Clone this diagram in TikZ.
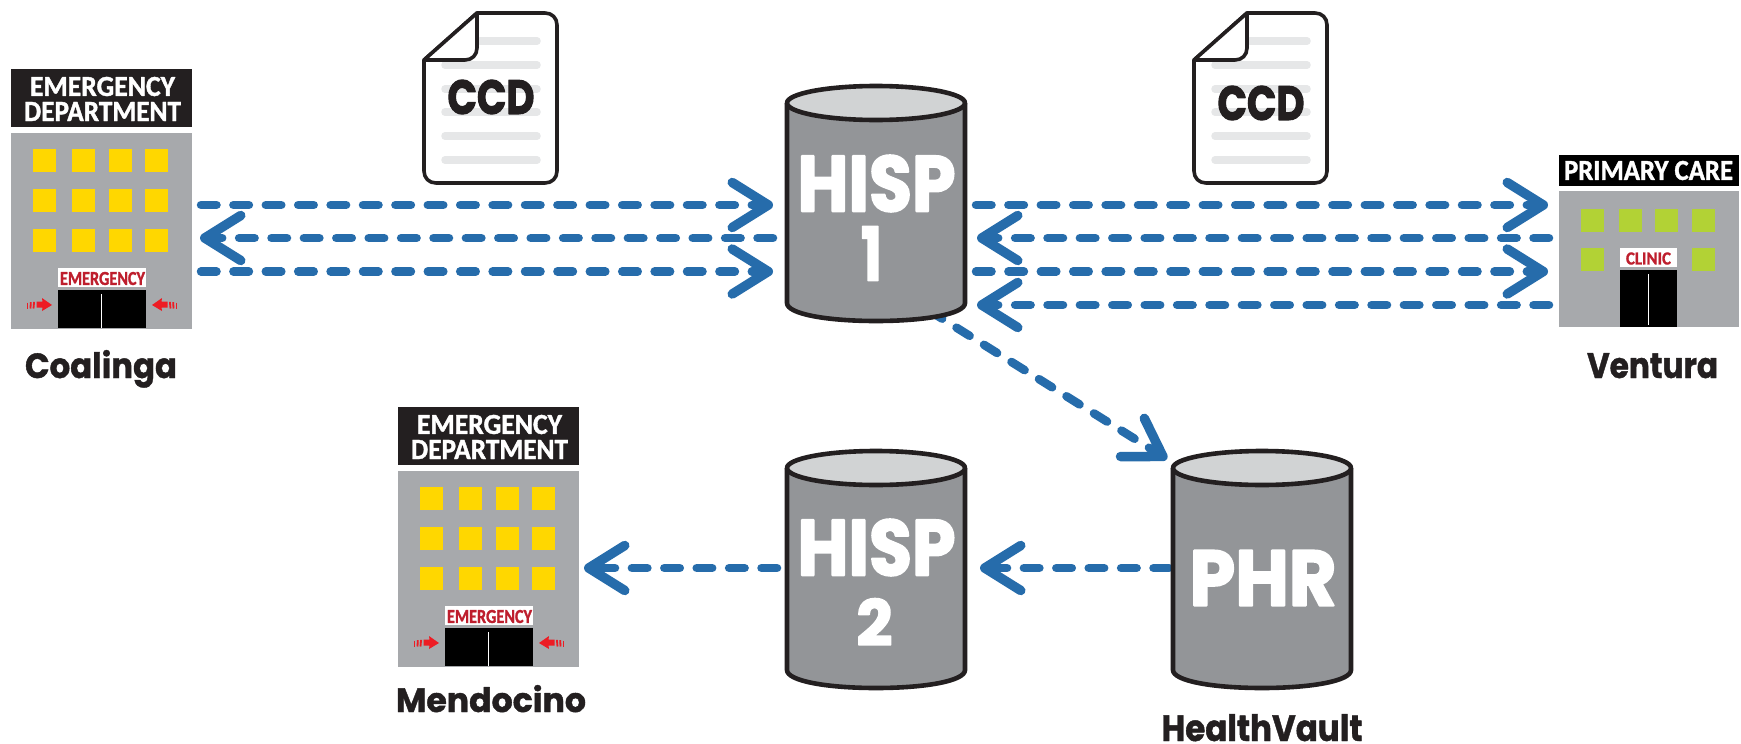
\documentclass[tikz,border=0pt]{standalone}
\usepackage{fontspec}
\usepackage{graphicx}
\usetikzlibrary{arrows.meta,backgrounds}
\newfontfamily\rnd{Poppins}[BoldFeatures={FakeBold=1.2}]
\newfontfamily\rndx{Poppins}[BoldFeatures={FakeBold=2.6}]
\newfontfamily\cond{Carlito}[BoldFeatures={FakeBold=1.4}]
\definecolor{ink}{HTML}{231F20}
\definecolor{flowblue}{HTML}{266CAB}
\definecolor{bldgray}{HTML}{A7A9AC}
\definecolor{cylbody}{HTML}{939598}
\definecolor{cyltop}{HTML}{D1D3D4}
\definecolor{winyellow}{HTML}{FFD700}
\definecolor{wingreen}{HTML}{B2D235}
\definecolor{signred}{HTML}{BE1E2D}
\definecolor{arrowred}{HTML}{ED1C24}
\definecolor{docline}{HTML}{E6E7E8}
\newcommand\fitt[3]{\resizebox{#1pt}{#2pt}{\special{pdf:code 1 j 1 J}#3}}
\tikzset{
  x=1pt,y=-1pt,
  txt/.style={inner sep=0pt,outer sep=0pt},
  block/.style={inner sep=0pt,outer sep=0pt,minimum width=#1pt},
  flow/.style={draw=flowblue,line width=8.5pt,line cap=round,dash pattern=on 15.5pt off 16.9pt,
    -{Straight Barb[length=36pt,width=45pt,line width=9.5pt,round,sep=0pt]}},
  cylline/.style={draw=ink,line width=4.6pt,line join=round},
  docedge/.style={draw=ink,line width=3.6pt,line join=round},
  docrule/.style={draw=docline,line width=7.5pt,line cap=round},
}
\newcommand\redarrow{%
  \fill[arrowred] (52,305) -- (42,298) -- (42.5,301.5) -- (36.5,301.5) -- (36.5,307.5) -- (42.5,307.5) -- (42,311) -- cycle;
  \foreach \q/\r in {27.5/0,30.5/0.3,33.5/0.6}{\draw[arrowred,line width=1.8pt] (\q+\r,302.5-\r) -- (\q,308.5);}
}
% emergency department building
\newcommand\edblock[3]{%
\begin{scope}[shift={(#2,#3)}]
  \fill[ink] (11,69) rectangle (192,127);
  \node[txt,text=white] (#1-a) at (102.5,86.5) {\fitt{145}{19}{\cond\bfseries EMERGENCY}};
  \node[txt,text=white] (#1-b) at (102.5,111.5) {\fitt{157}{19}{\cond\bfseries DEPARTMENT}};
  \node[block=181,minimum height=196pt,fill=bldgray,anchor=north west] (#1) at (11,133) {};
  \foreach \wx in {33,72,109,145}\foreach \wy in {149,189,229}{
    \fill[winyellow] (\wx,\wy) rectangle +(23,23);}
  \fill[white] (58,268) rectangle (146,287);
  \node[txt,text=signred] (#1-s) at (102.5,278.5) {\fitt{85}{13}{\cond\bfseries EMERGENCY}};
  \fill[black] (58,290) rectangle (146,328);
  \draw[white,line width=1pt] (101.5,294) -- (101.5,328);
  \redarrow
  \begin{scope}[shift={(204,0)},xscale=-1]\redarrow\end{scope}
\end{scope}}
% cylinder: name, left x, ellipse centre y, side end y
\newcommand\cyl[4]{%
\begin{scope}[shift={(#2,#3)}]
  \node[block=178,minimum height={(#4+35)*1pt},anchor=north west] (#1) at (0,-17) {};
  \draw[cylline,fill=cylbody] (0,0) -- (0,#4) .. controls (0,#4+11) and (40,#4+18) .. (89,#4+18)
     .. controls (138,#4+18) and (178,#4+11) .. (178,#4) -- (178,0);
  \draw[cylline,fill=cyltop] (89,0) ellipse [x radius=89,y radius=17];
\end{scope}}
% document icon
\newcommand\docicon[3]{%
\begin{scope}[shift={(#2,#3)}]
  \draw[docedge,fill=white] (424,60) -- (477,13) -- (545,13) .. controls (552,13) and (557,18) .. (557,25)
     -- (557,171) .. controls (557,178) and (552,183) .. (545,183) -- (436,183)
     .. controls (429,183) and (424,178) .. (424,171) -- cycle;
  \draw[docrule] (480,41) -- (537,41);
  \foreach \ly in {65,89,112,136,160}{\draw[docrule] (445,\ly) -- (537,\ly);}
  \draw[docedge,fill=white] (424,60) -- (477,13) -- (477,48) .. controls (477,55) and (472,60) .. (465,60) -- cycle;
\end{scope}}
\begin{document}
\begin{tikzpicture}
\begin{pgfonlayer}{background}
  \fill[white] (0,0) rectangle (1741,744);
\end{pgfonlayer}
\useasboundingbox (0,0) rectangle (1741,744);
% rows
\coordinate (rowa) at (0,205);
\coordinate (rowb) at (0,238);
\coordinate (rowc) at (0,271.5);
\coordinate (rowd) at (0,305);
\coordinate (rowe) at (0,568);
% documents
\docicon{docl}{0}{0}
\node[txt,text=ink] (ccdl) at (491,97) {\fitt{87}{34}{\rndx\bfseries CCD}};
\docicon{docr}{770}{0}
\node[txt,text=ink] (ccdr) at (1261,103) {\fitt{87}{34}{\rndx\bfseries CCD}};
% buildings
\edblock{coal}{0}{0}
\edblock{mend}{387}{338}
% primary care
\fill[black] (1559,155) rectangle (1739,186);
\node[txt,text=white] (pc) at (1648.5,170.5) {\fitt{169}{19}{\cond\bfseries PRIMARY CARE}};
\node[block=180,minimum height=136pt,fill=bldgray,anchor=north west] (vent) at (1559,191) {};
\foreach \wx in {1581,1619,1655,1692}{\fill[wingreen] (\wx,209) rectangle +(23,23);}
\foreach \wx in {1581,1692}{\fill[wingreen] (\wx,248) rectangle +(23,23);}
\fill[white] (1620,248) rectangle (1677,267);
\node[txt,text=signred] (clinic) at (1648.5,258.5) {\fitt{45}{12}{\cond\bfseries CLINIC}};
\fill[black] (1620,270) rectangle (1677,327);
\draw[white,line width=1pt] (1648,274) -- (1648,325);
% cylinders
\cyl{hispa}{787}{103}{200}
\cyl{hispb}{787}{468}{202}
\cyl{phr}{1173}{468}{202}
\node[txt,text=white] (hispat) at (876.5,183.5) {\fitt{158}{56}{\rndx\bfseries HISP}};
\node[txt,text=white] (one) at (871.5,253.5) {\fitt{21}{54}{\rndx\bfseries 1}};
\node[txt,text=white] (hispbt) at (876.5,547.5) {\fitt{158}{56}{\rndx\bfseries HISP}};
\node[txt,text=white] (two) at (874.5,622) {\fitt{36}{47}{\rndx\bfseries 2}};
\node[txt,text=white] (phrt) at (1263,578) {\fitt{147}{55}{\rndx\bfseries PHR}};
% labels
\node[txt,text=ink,anchor=base] (lcoal) at (101,378) {\fitt{152}{28}{\rnd\bfseries Coalinga}};
\node[txt,text=ink,anchor=base] (lmend) at (491,712) {\fitt{190}{27}{\rnd\bfseries Mendocino}};
\node[txt,text=ink,anchor=base] (lvent) at (1652.5,378) {\fitt{131}{25}{\rnd\bfseries Ventura}};
\node[txt,text=ink,anchor=base] (lheal) at (1262,741) {\fitt{201}{27}{\rnd\bfseries HealthVault}};
% connectors
\begin{pgfonlayer}{background}
  \draw[flow] ([xshift=9pt]coal.east |- rowa) -- ([xshift=-14pt]hispa.west |- rowa);
  \draw[flow] ([xshift=-14pt]hispa.west |- rowb) -- ([xshift=8pt]coal.east |- rowb);
  \draw[flow] ([xshift=9pt]coal.east |- rowc) -- ([xshift=-14pt]hispa.west |- rowc);
  \draw[flow] ([xshift=11pt]hispa.east |- rowa) -- ([xshift=-11pt]vent.west |- rowa);
  \draw[flow] ([xshift=-10pt]vent.west |- rowb) -- ([xshift=12pt]hispa.east |- rowb);
  \draw[flow] ([xshift=11pt]hispa.east |- rowc) -- ([xshift=-11pt]vent.west |- rowc);
  \draw[flow] ([xshift=-10pt]vent.west |- rowd) -- ([xshift=12pt]hispa.east |- rowd);
  \draw[flow] ([xshift=-36pt,yshift=10.5pt]hispa.south east) -- ([xshift=-6pt,yshift=-8pt]phr.north west);
  \draw[flow] ([xshift=-4pt]phr.west |- rowe) -- ([xshift=15pt]hispb.east |- rowe);
  \draw[flow] ([xshift=-10pt]hispb.west |- rowe) -- ([xshift=5pt]mend.east |- rowe);
\end{pgfonlayer}
\end{tikzpicture}
\end{document}
